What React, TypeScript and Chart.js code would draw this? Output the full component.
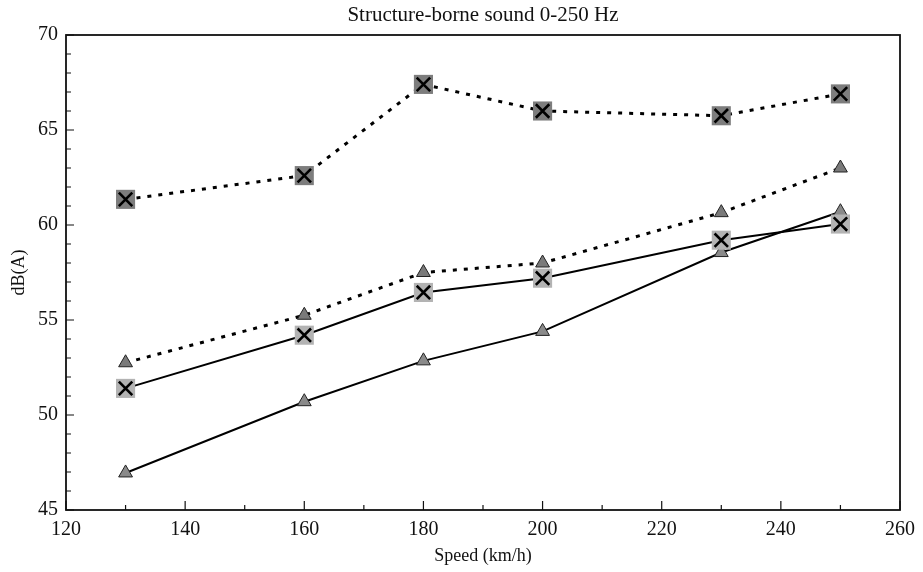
import React, { useEffect, useRef } from 'react';
import { Chart, registerables } from 'chart.js';

Chart.register(...registerables);

// Data
const speeds = [130, 160, 180, 200, 230, 250];
const upperSquareX = [61.35, 62.6, 67.4, 66.0, 65.75, 66.9];
const upperTriangle = [52.75, 55.25, 57.5, 58.0, 60.65, 63.0];
const lowerSquareX = [51.4, 54.2, 56.45, 57.2, 59.2, 60.05];
const lowerTriangle = [46.95, 50.7, 52.85, 54.4, 58.55, 60.7];

const xMajorTicks = [120, 140, 160, 180, 200, 220, 240, 260];
const xMinorTicks = [130, 150, 170, 190, 210, 230, 250];
const yMajorTicks = [45, 50, 55, 60, 65, 70];
const yMinorTicks = [46, 47, 48, 49, 51, 52, 53, 54, 56, 57, 58, 59, 61, 62, 63, 64, 66, 67, 68, 69];

const titleText = 'Structure-borne sound 0-250 Hz';
const xTitle = 'Speed (km/h)';
const yTitle = 'dB(A)';

const pts = (ys: number[]) => speeds.map((x, i) => ({ x, y: ys[i] }));

const FONT = '"Liberation Serif", "DejaVu Serif", serif';

const frameAndTicks = {
  id: 'frameAndTicks',
  beforeDatasetsDraw(chart: any) {
    const { ctx, chartArea: a, scales } = chart;
    const xs = scales.x;
    const ys = scales.y;
    ctx.save();
    ctx.strokeStyle = '#111';
    ctx.lineWidth = 1.2;
    ctx.beginPath();
    xMajorTicks.forEach((v) => {
      const px = xs.getPixelForValue(v);
      ctx.moveTo(px, a.bottom);
      ctx.lineTo(px, a.bottom - 9);
    });
    xMinorTicks.forEach((v) => {
      const px = xs.getPixelForValue(v);
      ctx.moveTo(px, a.bottom);
      ctx.lineTo(px, a.bottom - 5);
    });
    yMajorTicks.forEach((v) => {
      const py = ys.getPixelForValue(v);
      ctx.moveTo(a.left, py);
      ctx.lineTo(a.left + 8, py);
    });
    yMinorTicks.forEach((v) => {
      const py = ys.getPixelForValue(v);
      ctx.moveTo(a.left, py);
      ctx.lineTo(a.left + 5, py);
    });
    ctx.stroke();
    ctx.lineWidth = 1.8;
    ctx.strokeRect(a.left, a.top, a.right - a.left, a.bottom - a.top);
    ctx.restore();
  },
  afterDraw(chart: any) {
    const { ctx, chartArea: a } = chart;
    ctx.save();
    ctx.fillStyle = '#111';
    ctx.font = `21px ${FONT}`;
    ctx.textAlign = 'center';
    ctx.textBaseline = 'middle';
    ctx.fillText(titleText, (a.left + a.right) / 2, 15);
    ctx.restore();
  },
};

export default function App() {
  const ref = useRef<HTMLCanvasElement | null>(null);

  useEffect(() => {
    if (!ref.current) return;
    const chart = new Chart(ref.current, {
      type: 'scatter',
      data: {
        datasets: [
          {
            label: 'upper X',
            data: pts(upperSquareX),
            showLine: false,
            pointStyle: 'crossRot',
            pointRadius: 9.5,
            pointBorderColor: '#000',
            pointBorderWidth: 2.6,
            order: 0,
          },
          {
            label: 'lower X',
            data: pts(lowerSquareX),
            showLine: false,
            pointStyle: 'crossRot',
            pointRadius: 9.5,
            pointBorderColor: '#000',
            pointBorderWidth: 2.6,
            order: 0,
          },
          {
            label: 'upper square',
            data: pts(upperSquareX),
            showLine: true,
            borderColor: '#000',
            borderWidth: 3,
            borderDash: [4, 7],
            pointStyle: 'rect',
            pointRadius: 13.5,
            pointBackgroundColor: '#7d7d7d',
            pointBorderWidth: 0,
            pointBorderColor: 'rgba(0,0,0,0)',
            order: 1,
          },
          {
            label: 'lower square',
            data: pts(lowerSquareX),
            showLine: true,
            borderColor: '#000',
            borderWidth: 2,
            pointStyle: 'rect',
            pointRadius: 13.5,
            pointBackgroundColor: '#b3b3b3',
            pointBorderWidth: 0,
            pointBorderColor: 'rgba(0,0,0,0)',
            order: 1,
          },
          {
            label: 'upper triangle',
            data: pts(upperTriangle),
            showLine: true,
            borderColor: '#000',
            borderWidth: 3,
            borderDash: [4, 7],
            pointStyle: 'triangle',
            pointRadius: 8,
            pointBackgroundColor: '#7a7a7a',
            pointBorderColor: '#222',
            pointBorderWidth: 1,
            order: 1,
          },
          {
            label: 'lower triangle',
            data: pts(lowerTriangle),
            showLine: true,
            borderColor: '#000',
            borderWidth: 2,
            pointStyle: 'triangle',
            pointRadius: 8,
            pointBackgroundColor: '#8a8a8a',
            pointBorderColor: '#222',
            pointBorderWidth: 1,
            order: 1,
          },
        ],
      },
      options: {
        animation: false,
        responsive: true,
        maintainAspectRatio: false,
        layout: { padding: { left: 0, right: 18, top: 35, bottom: 0 } },
        plugins: {
          legend: { display: false },
          tooltip: { enabled: false },
          title: { display: false },
        },
        scales: {
          x: {
            type: 'linear',
            min: 120,
            max: 260,
            afterFit: (s: any) => { s.height = 62; },
            afterBuildTicks: (s: any) => { s.ticks = xMajorTicks.map((v) => ({ value: v })); },
            grid: { display: false, drawTicks: false },
            border: { display: false },
            ticks: {
              color: '#111',
              padding: 8,
              maxRotation: 0,
              font: { family: FONT, size: 20 },
            },
            title: {
              display: true,
              text: xTitle,
              color: '#111',
              font: { family: FONT, size: 18 },
              padding: { top: 0, bottom: 5 },
            },
          },
          y: {
            type: 'linear',
            min: 45,
            max: 70,
            afterFit: (s: any) => { s.width = 66; },
            afterBuildTicks: (s: any) => { s.ticks = yMajorTicks.map((v) => ({ value: v })); },
            grid: { display: false, drawTicks: false },
            border: { display: false },
            ticks: {
              color: '#111',
              padding: 8,
              font: { family: FONT, size: 20 },
            },
            title: {
              display: true,
              text: yTitle,
              color: '#111',
              font: { family: FONT, size: 18 },
              padding: { top: 8, bottom: 0 },
            },
          },
        },
      },
      plugins: [frameAndTicks],
    } as any);
    return () => chart.destroy();
  }, []);

  return (
    <div style={{ position: 'absolute', left: 0, top: 0, width: 923, height: 572, background: '#fff' }}>
      <canvas ref={ref} />
    </div>
  );
}
